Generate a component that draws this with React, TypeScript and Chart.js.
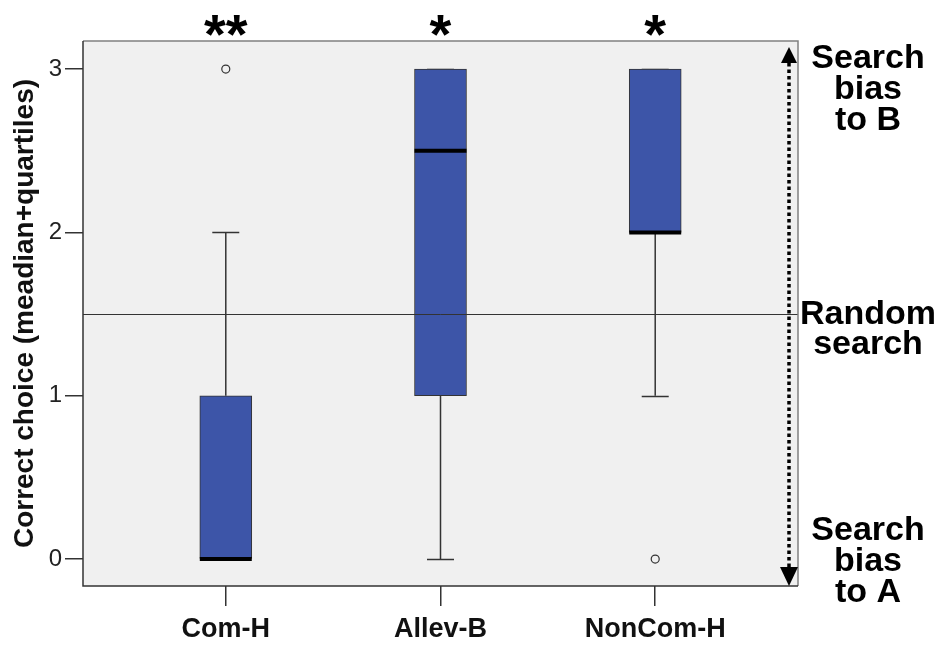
import React, { useEffect, useRef } from "react";
import { Chart, registerables } from "chart.js";

Chart.register(...registerables);

// ---- data ----
const categories = ["Com-H", "Allev-B", "NonCom-H"];
const whiskerLow = [0, 0, 1];
const quartile1 = [0, 1, 2];
const medians = [0, 2.5, 2];
const quartile3 = [1, 3, 3];
const whiskerHigh = [2, 3, 3];
const outlierGroup = [1, 3];
const outlierValue = [3, 0];
const significance = ["**", "*", "*"];
const yTickValues = [0, 1, 2, 3];
const chanceLevel = 1.5;
const noteTop = ["Search", "bias", "to B"];
const noteMiddle = ["Random", "search"];
const noteBottom = ["Search", "bias", "to A"];
const yTitle = "Correct choice (meadian+quartiles)";

const FONT = "'Liberation Sans', Arial, sans-serif";
const BOX_FILL = "#3d55a8";
const DARK = "#333333";

const extrasPlugin = {
  id: "boxExtras",
  beforeDraw(chart: any) {
    const { ctx, chartArea: a } = chart;
    ctx.save();
    ctx.fillStyle = "#f0f0f0";
    ctx.fillRect(a.left, a.top, a.right - a.left, a.bottom - a.top);
    ctx.restore();
  },
  beforeDatasetsDraw(chart: any) {
    const { ctx } = chart;
    const xs = chart.scales.x;
    const ys = chart.scales.y;
    ctx.save();
    ctx.strokeStyle = DARK;
    ctx.lineWidth = 1.5;
    categories.forEach((_, i) => {
      const x = xs.getPixelForValue(i + 1);
      const capHalf = 13.5;
      const segs = [
        [whiskerLow[i], quartile1[i]],
        [quartile3[i], whiskerHigh[i]],
      ];
      segs.forEach(([a, b]) => {
        if (a === b) return;
        ctx.beginPath();
        ctx.moveTo(x, ys.getPixelForValue(a));
        ctx.lineTo(x, ys.getPixelForValue(b));
        ctx.stroke();
      });
      [whiskerLow[i], whiskerHigh[i]].forEach((v) => {
        const y = Math.round(ys.getPixelForValue(v)) + 0.5;
        ctx.beginPath();
        ctx.moveTo(x - capHalf, y);
        ctx.lineTo(x + capHalf, y);
        ctx.stroke();
      });
    });
    ctx.restore();
  },
  afterDatasetsDraw(chart: any) {
    const { ctx, chartArea: a } = chart;
    const xs = chart.scales.x;
    const ys = chart.scales.y;
    ctx.save();
    // medians
    ctx.strokeStyle = "#000";
    ctx.lineWidth = 4;
    categories.forEach((_, i) => {
      const x = xs.getPixelForValue(i + 1);
      const y = ys.getPixelForValue(medians[i]);
      ctx.beginPath();
      ctx.moveTo(x - 26, y);
      ctx.lineTo(x + 26, y);
      ctx.stroke();
    });
    // chance line
    const yc = Math.round(ys.getPixelForValue(chanceLevel)) + 0.5;
    ctx.strokeStyle = DARK;
    ctx.lineWidth = 1;
    ctx.beginPath();
    ctx.moveTo(a.left, yc);
    ctx.lineTo(a.right, yc);
    ctx.stroke();
    // plot border
    ctx.lineWidth = 1.5;
    ctx.strokeStyle = "#808080";
    ctx.beginPath();
    ctx.moveTo(a.left, a.top);
    ctx.lineTo(a.right, a.top);
    ctx.lineTo(a.right, a.bottom);
    ctx.stroke();
    ctx.strokeStyle = DARK;
    ctx.beginPath();
    ctx.moveTo(a.left, a.top);
    ctx.lineTo(a.left, a.bottom);
    ctx.lineTo(a.right, a.bottom);
    ctx.stroke();
    // dotted double arrow
    const ax = a.right - 9;
    ctx.strokeStyle = "#000";
    ctx.lineWidth = 3.5;
    ctx.setLineDash([3.5, 3]);
    ctx.beginPath();
    ctx.moveTo(ax, a.top + 22);
    ctx.lineTo(ax, a.bottom - 19);
    ctx.stroke();
    ctx.setLineDash([]);
    ctx.fillStyle = "#000";
    ctx.beginPath();
    ctx.moveTo(ax, a.top + 6);
    ctx.lineTo(ax - 8, a.top + 22);
    ctx.lineTo(ax + 8, a.top + 22);
    ctx.closePath();
    ctx.fill();
    ctx.beginPath();
    ctx.moveTo(ax, a.bottom);
    ctx.lineTo(ax - 9, a.bottom - 19);
    ctx.lineTo(ax + 9, a.bottom - 19);
    ctx.closePath();
    ctx.fill();
    ctx.restore();
  },
  afterDraw(chart: any) {
    const { ctx, chartArea: a } = chart;
    const xs = chart.scales.x;
    const ys = chart.scales.y;
    ctx.save();
    ctx.fillStyle = "#000";
    ctx.textAlign = "center";
    ctx.textBaseline = "alphabetic";
    ctx.font = `bold 56px ${FONT}`;
    significance.forEach((s, i) => {
      ctx.fillText(s, xs.getPixelForValue(i + 1), 53);
    });
    ctx.font = `bold 34px ${FONT}`;
    const nx = 868;
    const lh = 31;
    noteTop.forEach((t, i) => ctx.fillText(t, nx, a.top + 27 + i * lh));
    const ym = ys.getPixelForValue(chanceLevel);
    noteMiddle.forEach((t, i) => ctx.fillText(t, nx, ym + 10 + i * 30));
    noteBottom.forEach((t, i) =>
      ctx.fillText(t, nx, a.bottom + 16 - (noteBottom.length - 1 - i) * lh)
    );
    ctx.restore();
  },
};

export default function App() {
  const canvasRef = useRef<HTMLCanvasElement | null>(null);

  useEffect(() => {
    if (!canvasRef.current) return;
    const chart = new Chart(canvasRef.current, {
      type: "bar",
      data: {
        datasets: [
          {
            type: "bar",
            data: categories.map((_, i) => ({ x: i + 1, y: [quartile1[i], quartile3[i]] })) as any,
            backgroundColor: BOX_FILL,
            borderColor: DARK,
            borderWidth: 1,
            borderSkipped: false,
            barThickness: 52,
          } as any,
          {
            type: "scatter",
            data: outlierGroup.map((g, i) => ({ x: g, y: outlierValue[i] })),
            pointRadius: 4,
            pointBackgroundColor: "#f0f0f0",
            pointBorderColor: DARK,
            pointBorderWidth: 1.2,
          } as any,
        ],
      },
      options: {
        animation: false,
        responsive: true,
        maintainAspectRatio: false,
        layout: { padding: { left: 0, right: 152, top: 41, bottom: 0 } },
        plugins: { legend: { display: false }, tooltip: { enabled: false } },
        scales: {
          x: {
            type: "linear",
            min: 0.335,
            max: 3.665,
            offset: false,
            afterBuildTicks: (s: any) => {
              s.ticks = categories.map((_, i) => ({ value: i + 1 }));
            },
            afterFit: (s: any) => {
              s.height = 64;
            },
            grid: { offset: false, drawOnChartArea: false, drawTicks: true, tickLength: 20, color: DARK, lineWidth: 1.5 },
            border: { display: false },
            ticks: {
              callback: (v: any) => categories[Math.round(v) - 1] ?? "",
              font: { family: FONT, size: 27, weight: "bold" },
              color: "#111",
              padding: 7,
              maxRotation: 0,
            },
          },
          y: {
            type: "linear",
            min: -0.165,
            max: 3.172,
            afterBuildTicks: (s: any) => {
              s.ticks = yTickValues.map((v) => ({ value: v }));
            },
            afterFit: (s: any) => {
              s.width = 83;
            },
            grid: { drawOnChartArea: false, drawTicks: true, tickLength: 18, color: DARK, lineWidth: 1.5 },
            border: { display: false },
            ticks: {
              font: { family: FONT, size: 24 },
              color: "#222",
              padding: 3,
            },
            title: {
              display: true,
              text: yTitle,
              font: { family: FONT, size: 28, weight: "bold" },
              color: "#111",
              padding: { top: 8, bottom: 0 },
            },
          },
        },
      },
      plugins: [extrasPlugin],
    } as any);
    return () => chart.destroy();
  }, []);

  return (
    <div style={{ position: "fixed", left: 0, top: 0, width: 950, height: 650, background: "#fff" }}>
      <canvas ref={canvasRef} />
    </div>
  );
}
